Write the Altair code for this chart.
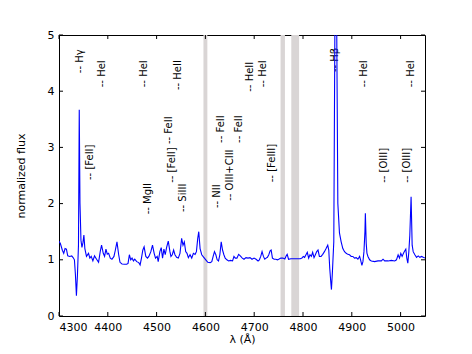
import altair as alt
import pandas as pd

# spectrum (wavelength in Angstrom, normalized flux)
wavelength = [4300.0, 4302.8, 4306.9, 4309.7, 4312.4, 4315.2, 4317.9, 4322.0, 4326.1, 4328.9,
              4331.6, 4333.7, 4335.7, 4337.8, 4339.9, 4341.5, 4343.0, 4345.0, 4347.0, 4349.0,
              4351.0, 4353.0, 4356.3, 4360.5, 4363.2, 4366.0, 4369.4, 4372.8, 4377.0, 4381.1,
              4384.5, 4387.2, 4390.7, 4393.4, 4396.2, 4398.9, 4401.7, 4405.1, 4408.5, 4412.6,
              4415.4, 4418.8, 4422.3, 4425.0, 4429.1, 4434.6, 4438.7, 4441.5, 4444.2, 4447.0,
              4449.7, 4452.5, 4455.2, 4459.3, 4463.5, 4466.2, 4469.0, 4471.7, 4474.4, 4477.9,
              4481.3, 4484.1, 4488.2, 4491.6, 4495.0, 4497.8, 4501.2, 4503.3, 4506.7, 4509.5,
              4512.2, 4515.0, 4517.7, 4520.4, 4523.9, 4527.3, 4529.4, 4532.1, 4534.9, 4537.6,
              4541.0, 4544.5, 4547.9, 4551.3, 4554.1, 4556.8, 4559.6, 4562.3, 4565.1, 4568.5,
              4572.0, 4575.4, 4578.8, 4581.6, 4584.3, 4586.4, 4589.1, 4592.5, 4596.7, 4600.8,
              4604.9, 4609.7, 4613.1, 4615.9, 4618.6, 4621.4, 4624.1, 4626.9, 4629.6, 4632.4,
              4635.1, 4637.9, 4640.6, 4644.0, 4647.5, 4651.6, 4655.7, 4658.5, 4661.2, 4664.6,
              4668.1, 4671.5, 4675.6, 4679.1, 4683.2, 4687.3, 4691.4, 4695.5, 4699.7, 4703.8,
              4707.9, 4710.6, 4713.4, 4716.1, 4718.9, 4721.6, 4724.4, 4727.1, 4729.9, 4732.6,
              4734.7, 4737.4, 4740.9, 4744.3, 4747.7, 4751.2, 4754.6, 4758.7, 4762.8, 4765.6,
              4767.6, 4770.4, 4775.2, 4782.1, 4788.9, 4794.4, 4797.8, 4800.6, 4803.3, 4806.1,
              4808.8, 4811.6, 4814.3, 4817.1, 4819.8, 4822.6, 4825.3, 4828.1, 4830.8, 4833.6,
              4837.0, 4840.4, 4843.9, 4847.3, 4850.7, 4852.8, 4854.8, 4856.9, 4858.3, 4860.3,
              4863.1, 4867.0, 4871.4, 4874.7, 4878.2, 4881.6, 4885.1, 4888.5, 4891.9, 4895.3,
              4898.8, 4902.2, 4905.6, 4909.1, 4912.5, 4916.0, 4918.0, 4920.7, 4922.8, 4924.9,
              4926.9, 4927.8, 4929.5, 4931.0, 4933.1, 4936.5, 4940.0, 4946.8, 4953.7, 4960.6,
              4964.0, 4967.4, 4974.3, 4981.2, 4988.0, 4991.5, 4994.9, 4997.7, 5000.4, 5003.1,
              5005.9, 5008.6, 5010.7, 5012.7, 5014.8, 5016.9, 5018.9, 5021.5, 5023.7, 5025.8,
              5029.2, 5032.7, 5036.1, 5039.5, 5043.0, 5046.4, 5050.0]
flux = [1.33, 1.29, 1.17, 1.115, 1.20, 1.19, 1.07, 1.06, 1.07, 1.04,
        1.00, 0.73, 0.36, 0.73, 1.26, 3.67, 2.00, 1.35, 1.22, 1.30,
        1.44, 1.20, 1.06, 1.115, 1.03, 1.06, 0.98, 1.07, 1.01, 0.955,
        1.145, 1.26, 1.115, 1.06, 1.19, 1.10, 1.115, 1.03, 1.01, 1.06,
        1.17, 1.32, 1.09, 0.955, 0.925, 0.92, 0.92, 0.937, 1.09, 1.00,
        1.03, 0.98, 1.01, 0.967, 0.95, 0.91, 1.03, 1.17, 1.23, 1.06,
        1.03, 1.06, 1.145, 1.26, 1.115, 1.03, 1.06, 0.967, 1.145, 1.216,
        1.03, 1.19, 1.09, 1.216, 1.334, 1.145, 1.06, 1.09, 1.174, 1.09,
        1.044, 1.03, 1.115, 1.382, 1.26, 1.32, 1.145, 1.115, 1.038, 1.09,
        1.03, 1.115, 1.097, 1.145, 1.382, 1.50, 1.20, 1.09, 1.044, 1.00,
        0.955, 0.95, 0.967, 1.06, 1.145, 1.09, 1.00, 0.98, 1.09, 1.32,
        1.174, 1.09, 1.03, 1.00, 0.98, 0.99, 0.98, 1.06, 1.03, 1.03,
        1.097, 1.07, 1.03, 1.01, 1.038, 1.03, 1.038, 1.01, 1.03, 1.01,
        0.98, 1.00, 1.06, 1.145, 1.06, 1.01, 1.03, 1.044, 1.09, 1.16,
        1.174, 1.03, 1.01, 1.01, 1.00, 1.014, 1.03, 1.03, 1.014, 1.07,
        1.097, 1.01, 1.02, 1.02, 1.02, 1.02, 1.03, 1.06, 1.044, 1.09,
        1.133, 1.03, 1.09, 1.06, 1.133, 1.038, 1.09, 1.145, 1.174, 1.06,
        1.06, 1.097, 1.145, 1.20, 1.26, 1.174, 0.85, 0.61, 0.47, 0.79,
        1.32, 8.00, 2.00, 1.48, 1.32, 1.20, 1.145, 1.115, 1.097, 1.09,
        1.06, 1.06, 1.03, 1.038, 1.01, 1.06, 1.00, 0.90, 0.967, 1.145,
        1.50, 1.83, 1.30, 1.12, 1.06, 1.00, 0.98, 0.967, 0.98, 0.98,
        1.01, 0.98, 0.98, 0.99, 0.98, 1.00, 1.09, 1.03, 1.115, 1.06,
        1.115, 1.16, 1.19, 1.03, 0.94, 1.145, 1.44, 2.12, 1.26, 1.145,
        1.09, 1.044, 1.07, 1.044, 1.06, 1.044, 1.03]

# line identifications
label_wl = [4342.6, 4388.0, 4363.0, 4474.5, 4482.7, 4544.5, 4532.0, 4526.0, 4555.0, 4623.0,
            4650.0, 4631.0, 4668.0, 4691.0, 4718.0, 4736.0, 4866.0, 4926.0, 4967.0, 5022.0,
            5014.0]
label_y = [4.32, 4.07, 2.42, 4.07, 1.81, 4.02, 2.37, 3.06, 1.85, 1.92,
           2.05, 3.08, 3.08, 3.99, 4.07, 2.38, 4.34, 4.07, 2.37, 4.07,
           2.37]
label_text = ["-- Hγ", "-- HeI", "-- [FeII]", "-- HeI", "-- MgII", "-- HeII", "-- [FeII]",
              "-- FeII", "-- SiIII", "-- NII", "-- OIII+CIII", "-- FeII", "-- FeII", "-- HeII",
              "-- HeI", "-- [FeIII]", "-- Hβ", "-- HeI", "-- [OIII]", "-- HeI", "-- [OIII]"]

# masked regions
band_start = [4596.0, 4754.0, 4776.0]
band_end = [4604.0, 4763.0, 4792.0]

x_ticks = [4300, 4400, 4500, 4600, 4700, 4800, 4900, 5000]
y_ticks = [0, 1, 2, 3, 4, 5]

W, H = 366, 281
FONT = "DejaVu Sans"

spec = pd.DataFrame({"wl": wavelength, "flux": flux})
labels = pd.DataFrame({"wl": label_wl, "flux": label_y, "text": label_text})
bands = pd.DataFrame({"wl": band_start, "wl2": band_end})
xt = pd.DataFrame({"wl": x_ticks})
yt = pd.DataFrame({"flux": y_ticks})

xscale = alt.Scale(domain=[4300, 5050], nice=False, zero=False)
yscale = alt.Scale(domain=[0, 5], nice=False, zero=False)

x_axis = alt.Axis(values=x_ticks, format="d", title="λ (Å)", ticks=False, domain=False, grid=False,
                  labelFont=FONT, labelFontSize=11, labelColor="black", labelPadding=5,
                  titleFont=FONT, titleFontSize=11, titleFontWeight="normal", titleColor="black",
                  titlePadding=1)
y_axis = alt.Axis(values=y_ticks, format="d", title="normalized flux", ticks=False, domain=False, grid=False,
                  labelFont=FONT, labelFontSize=11, labelColor="black", labelPadding=5,
                  titleFont=FONT, titleFontSize=11, titleFontWeight="normal", titleColor="black",
                  titlePadding=21)

band_layer = alt.Chart(bands).mark_rect(color="#d9d5d5", opacity=1).encode(
    x=alt.X("wl:Q", scale=xscale, axis=x_axis),
    x2="wl2:Q",
    y=alt.value(0),
    y2=alt.value(H),
)

text_layer = alt.Chart(labels).mark_text(
    angle=270, align="left", baseline="middle", font=FONT, fontSize=10, color="black"
).encode(
    x=alt.X("wl:Q", scale=xscale),
    y=alt.Y("flux:Q", scale=yscale, axis=y_axis),
    text="text:N",
)

line_layer = alt.Chart(spec).mark_line(color="#0000ff", strokeWidth=1.1, clip=True).encode(
    x=alt.X("wl:Q", scale=xscale),
    y=alt.Y("flux:Q", scale=yscale),
)

tl = 4
xt_bottom = alt.Chart(xt).mark_rule(color="black", strokeWidth=1).encode(
    x=alt.X("wl:Q", scale=xscale), y=alt.value(H), y2=alt.value(H - tl))
xt_top = alt.Chart(xt).mark_rule(color="black", strokeWidth=1).encode(
    x=alt.X("wl:Q", scale=xscale), y=alt.value(0), y2=alt.value(tl))
yt_left = alt.Chart(yt).mark_rule(color="black", strokeWidth=1).encode(
    y=alt.Y("flux:Q", scale=yscale), x=alt.value(0), x2=alt.value(tl))
yt_right = alt.Chart(yt).mark_rule(color="black", strokeWidth=1).encode(
    y=alt.Y("flux:Q", scale=yscale), x=alt.value(W), x2=alt.value(W - tl))

chart = alt.layer(band_layer, text_layer, line_layer, xt_bottom, xt_top, yt_left, yt_right).properties(
    width=W, height=H,
    autosize=alt.AutoSizeParams(type="none"),
    padding={"left": 51, "top": 27, "right": 39, "bottom": 30},
    background="white",
).configure_view(stroke="black", strokeWidth=1)

chart.save("out.html", embed_options={"renderer": "svg", "actions": False})
